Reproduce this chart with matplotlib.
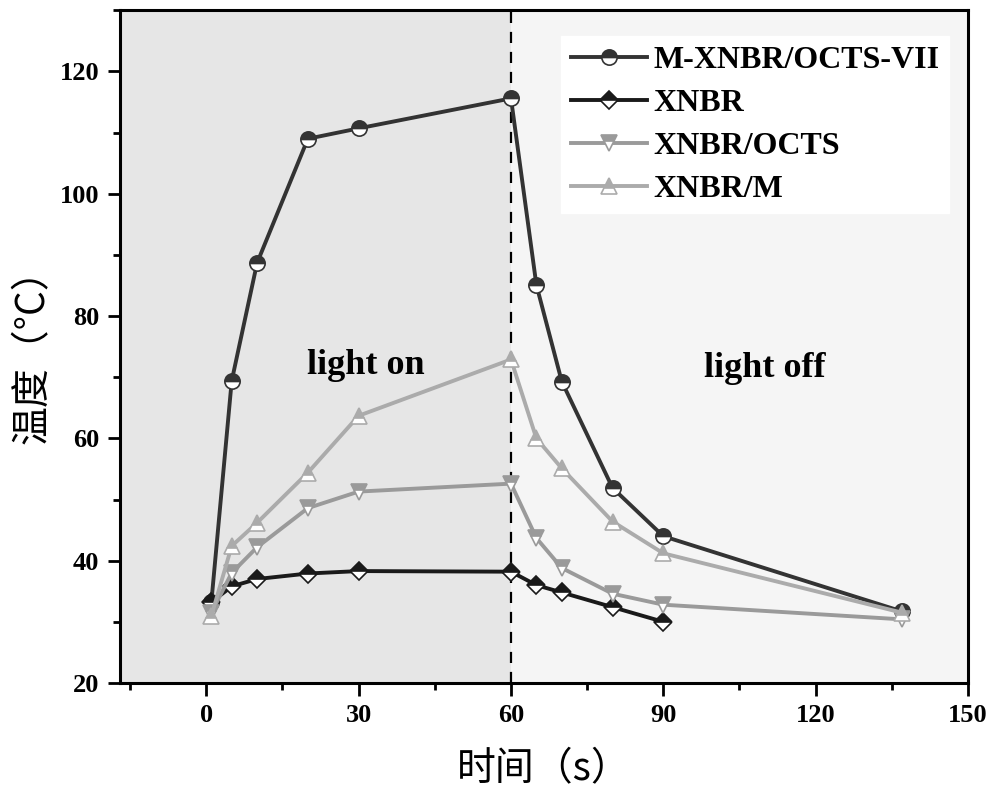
import numpy as np
import matplotlib.pyplot as plt
from matplotlib.ticker import MultipleLocator

plt.rcParams['font.family'] = ['Liberation Serif', 'Noto Sans CJK SC', 'DejaVu Sans']

# data
x_main = [1, 5, 10, 20, 30, 60, 65, 70, 80, 90, 137]
x_xnbr = [1, 5, 10, 20, 30, 60, 65, 70, 80, 90]

y_mxnbr = [33.3, 69.4, 88.7, 109.0, 110.7, 115.6, 85.1, 69.3, 51.9, 44.0, 31.7]
y_xnbr = [33.2, 35.8, 37.0, 37.9, 38.3, 38.2, 36.0, 34.8, 32.4, 30.0]
y_octs = [31.5, 38.0, 42.2, 48.6, 51.3, 52.6, 43.7, 38.8, 34.6, 32.8, 30.4]
y_m = [31.0, 42.4, 46.2, 54.4, 63.7, 72.9, 60.0, 55.1, 46.4, 41.2, 31.5]

series = [
    ('M-XNBR/OCTS-VII', x_main, y_mxnbr, 'o', '#333333', 11),
    ('XNBR', x_xnbr, y_xnbr, 'D', '#1a1a1a', 9),
    ('XNBR/OCTS', x_main, y_octs, 'v', '#9a9a9a', 11),
    ('XNBR/M', x_main, y_m, '^', '#ababab', 11),
]

fig = plt.figure(figsize=(10, 7.96), dpi=100)
ax = fig.add_axes([0.12, 0.142, 0.848, 0.845])

ax.set_xlim(-17, 150)
ax.set_ylim(20, 130)

# light on / light off shading
ax.axvspan(-17, 60, color='#e6e6e6', zorder=0, lw=0)
ax.axvspan(60, 150, color='#f5f5f5', zorder=0, lw=0)
ax.axvline(60, color='black', ls=(0, (5, 4)), lw=1.6, zorder=1)

for name, xs, ys, mk, c, ms in series:
    ax.plot(xs, ys, color=c, lw=2.8, marker=mk, ms=ms, fillstyle='top',
            markerfacecolor=c, markerfacecoloralt='white', markeredgecolor=c,
            markeredgewidth=1.2, label=name, zorder=3)

ax.text(31.5, 72, 'light on', fontsize=26, fontweight='bold', ha='center', va='center')
ax.text(110, 71.5, 'light off', fontsize=26, fontweight='bold', ha='center', va='center')

ax.xaxis.set_major_locator(MultipleLocator(30))
ax.xaxis.set_minor_locator(MultipleLocator(15))
ax.yaxis.set_major_locator(MultipleLocator(20))
ax.yaxis.set_minor_locator(MultipleLocator(10))
ax.tick_params(which='major', direction='out', length=9, width=2, labelsize=19, pad=6)
ax.tick_params(which='minor', direction='out', length=5, width=2)
for lab in ax.get_xticklabels() + ax.get_yticklabels():
    lab.set_fontweight('bold')
for sp in ax.spines.values():
    sp.set_linewidth(2.2)

ax.set_xlabel('时间（s）', fontsize=28, family=['Noto Sans CJK SC'], labelpad=16)
ax.set_ylabel('温度（°C）', fontsize=28, family=['Noto Sans CJK SC'], labelpad=5)

leg = ax.legend(loc='upper right', bbox_to_anchor=(0.997, 0.985), frameon=True,
                fancybox=False, edgecolor='white', framealpha=1,
                prop={'family': 'Liberation Serif', 'weight': 'bold', 'size': 23},
                handlelength=2.4, handletextpad=0.2, labelspacing=0.42,
                borderpad=0.3)

fig.savefig('out.png', dpi=100)
